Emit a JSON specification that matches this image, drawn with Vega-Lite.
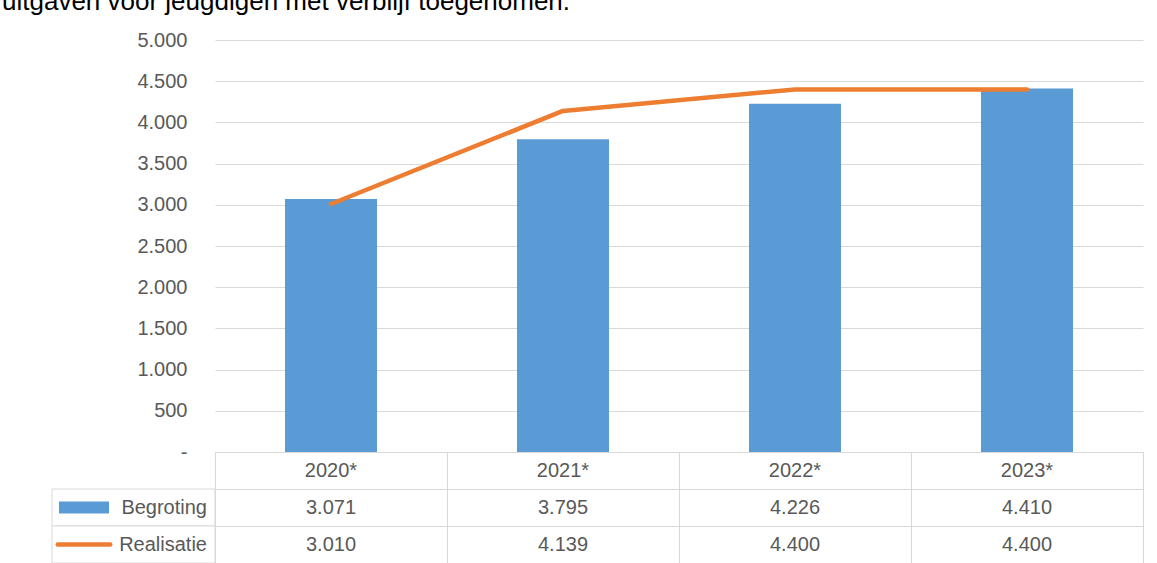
{
  "$schema": "https://vega.github.io/schema/vega-lite/v6.json",
  "padding": {"left": 2, "top": -11, "right": 0, "bottom": 0},
  "background": "white",
  "title": {
    "text": "uitgaven voor jeugdigen met verblijf toegenomen.",
    "anchor": "start",
    "frame": "group",
    "font": "Liberation Sans",
    "fontSize": 26,
    "fontWeight": "normal",
    "color": "#000000",
    "baseline": "bottom",
    "offset": -11,
    "dx": -50
  },
  "datasets": {
    "main": [
      {"jaar": "2020*", "Begroting": 3071, "Realisatie": 3010},
      {"jaar": "2021*", "Begroting": 3795, "Realisatie": 4139},
      {"jaar": "2022*", "Begroting": 4226, "Realisatie": 4400},
      {"jaar": "2023*", "Begroting": 4410, "Realisatie": 4400}
    ]
  },
  "columns": 2,
  "spacing": 0,
  "bounds": "flush",
  "concat": [
    {"width": 163, "height": 412, "data": {"values": []}, "mark": "point"},
    {
      "width": 928,
      "height": 412,
      "data": {"name": "main"},
      "encoding": {
        "x": {"field": "jaar", "type": "nominal", "sort": null, "scale": {"paddingInner": 0.6034, "paddingOuter": 0.3017}, "axis": null}
      },
      "layer": [
        {
          "mark": {"type": "bar", "color": "#5b9bd5"},
          "encoding": {
            "y": {
              "field": "Begroting", "type": "quantitative", "title": null,
              "scale": {"domain": [0, 5000]},
              "axis": {
                "values": [0, 500, 1000, 1500, 2000, 2500, 3000, 3500, 4000, 4500, 5000],
                "title": null, "domain": false, "ticks": false,
                "labelPadding": 28, "labelFontSize": 20, "labelColor": "#595959", "labelFont": "Liberation Sans",
                "grid": true, "gridColor": "#d9d9d9", "gridWidth": 1,
                "format": ",d",
                "labelExpr": "datum.value === 0 ? '-' : datum.label"
              }
            }
          }
        },
        {
          "mark": {"type": "line", "color": "#ed7d31", "strokeWidth": 4.5, "strokeCap": "round", "strokeJoin": "round"},
          "encoding": {
            "y": {"field": "Realisatie", "type": "quantitative", "title": null}
          }
        }
      ]
    },
    {
      "width": 163,
      "height": 111,
      "data": {"name": "main"},
      "transform": [
        {"fold": ["Begroting", "Realisatie"], "as": ["reeks", "waarde"]},
        {"aggregate": [{"op": "count", "as": "n"}], "groupby": ["reeks"]}
      ],
      "layer": [
        {
          "mark": {"type": "rect", "fill": "white", "stroke": "#d9d9d9", "strokeWidth": 1},
          "encoding": {
            "y": {"field": "reeks", "type": "nominal", "scale": {"domain": ["kop", "Begroting", "Realisatie"], "paddingInner": 0, "paddingOuter": 0}, "axis": null}
          }
        },
        {
          "transform": [{"filter": "datum.reeks === 'Begroting'"}],
          "mark": {"type": "point", "shape": "M-1,-0.24H1V0.24H-1Z", "filled": true, "color": "#5b9bd5", "opacity": 1, "size": 2500},
          "encoding": {
            "x": {"datum": "sw", "type": "nominal", "scale": {"type": "point", "domain": ["sw", "lab"], "padding": 0.1626, "align": 0.8}, "axis": null},
            "y": {"field": "reeks", "type": "nominal"}
          }
        },
        {
          "transform": [{"filter": "datum.reeks === 'Realisatie'"}],
          "mark": {"type": "point", "shape": "stroke", "filled": false, "color": "#ed7d31", "strokeWidth": 4.5, "strokeCap": "round", "opacity": 1, "size": 2756},
          "encoding": {
            "x": {"datum": "sw", "type": "nominal"},
            "y": {"field": "reeks", "type": "nominal"}
          }
        },
        {
          "mark": {"type": "text", "align": "right", "baseline": "middle", "fontSize": 20, "color": "#595959", "font": "Liberation Sans"},
          "encoding": {
            "x": {"datum": "lab", "type": "nominal"},
            "y": {"field": "reeks", "type": "nominal"},
            "text": {"field": "reeks"}
          }
        }
      ]
    },
    {
      "width": 928,
      "height": 111,
      "view": {"stroke": "#d9d9d9", "strokeWidth": 1},
      "data": {"name": "main"},
      "transform": [{"fold": ["Begroting", "Realisatie"], "as": ["reeks", "waarde"]}],
      "encoding": {
        "x": {
          "field": "jaar", "type": "nominal", "sort": null,
          "scale": {"paddingInner": 0, "paddingOuter": 0},
          "axis": {"tickBand": "extent", "grid": true, "gridColor": "#d9d9d9", "labels": false, "ticks": false, "domain": false, "title": null}
        }
      },
      "layer": [
        {
          "mark": {"type": "text", "fontSize": 20, "color": "#595959", "font": "Liberation Sans", "baseline": "middle"},
          "encoding": {
            "y": {
              "field": "reeks", "type": "nominal",
              "scale": {"domain": ["kop", "Begroting", "Realisatie"], "paddingInner": 0, "paddingOuter": 0},
              "axis": {"tickBand": "extent", "grid": true, "gridColor": "#d9d9d9", "labels": false, "ticks": false, "domain": false, "title": null}
            },
            "text": {"field": "waarde", "type": "quantitative", "format": ",d"}
          }
        },
        {
          "transform": [{"filter": "datum.reeks === 'Begroting'"}],
          "mark": {"type": "text", "fontSize": 20, "color": "#595959", "font": "Liberation Sans", "baseline": "middle"},
          "encoding": {
            "y": {"datum": "kop", "type": "nominal"},
            "text": {"field": "jaar"}
          }
        }
      ]
    }
  ],
  "config": {
    "view": {"stroke": null},
    "font": "Liberation Sans",
    "locale": {"number": {"decimal": ",", "thousands": ".", "grouping": [3], "currency": ["€ ", ""]}}
  }
}
